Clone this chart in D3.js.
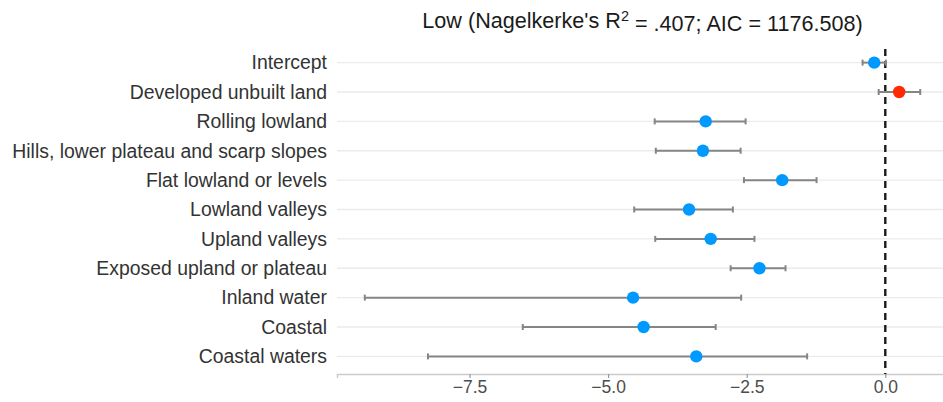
<!DOCTYPE html>
<html lang="en">
<head>
<meta charset="utf-8">
<title>Low model coefficients</title>
<script src="https://d3js.org/d3.v7.min.js"></script>
<style>
  body { margin: 0; background: #fff; }
  #chart text { font-family: "Liberation Sans", Arial, sans-serif; }
</style>
</head>
<body>
<div id="chart"></div>
<script>
// terms, top to bottom
const terms = ["Intercept", "Developed unbuilt land", "Rolling lowland",
  "Hills, lower plateau and scarp slopes", "Flat lowland or levels", "Lowland valleys",
  "Upland valleys", "Exposed upland or plateau", "Inland water", "Coastal", "Coastal waters"];
const estimates = [-0.20, 0.25, -3.24, -3.29, -1.86, -3.54, -3.15, -2.27, -4.55, -4.36, -3.41];
const ciLow =     [-0.41, -0.12, -4.16, -4.14, -2.55, -4.53, -4.15, -2.79, -9.39, -6.54, -8.25];
const ciHigh =    [0.01, 0.63, -2.52, -2.61, -1.24, -2.75, -2.36, -1.80, -2.60, -3.06, -1.41];
const positive =  [false, true, false, false, false, false, false, false, false, false, false];
const xTicks = [-7.5, -5.0, -2.5, 0.0];

const W = 943, H = 402;
const margin = {top: 45, right: -5, bottom: 28, left: 337};
const width = W - margin.left - margin.right;
const height = H - margin.top - margin.bottom;

const svg = d3.select("#chart").append("svg")
  .attr("width", W).attr("height", H);

const g = svg.append("g")
  .attr("transform", "translate(" + margin.left + "," + margin.top + ")");

// ggplot-ish 5% expansion of the data range
const lo = d3.min(ciLow), hi = d3.max(ciHigh);
const pad = (hi - lo) * 0.05;
const x = d3.scaleLinear().domain([lo - pad, hi + pad]).range([0, width]);

const y = d3.scalePoint().domain(terms).range([0, height]).padding(0.6);

const rows = terms.map((t, i) => ({term: t, est: estimates[i], lo: ciLow[i], hi: ciHigh[i], pos: positive[i]}));

// horizontal grid
g.selectAll(".grid").data(terms).enter().append("line")
  .attr("x1", 0).attr("x2", width)
  .attr("y1", d => y(d)).attr("y2", d => y(d))
  .attr("stroke", "#ebebeb").attr("stroke-width", 1.4);

// bottom axis
const xAxis = g.append("g")
  .attr("transform", "translate(0," + height + ")")
  .call(d3.axisBottom(x).tickValues(xTicks).tickFormat(d3.format(".1f")).tickSizeOuter(0).tickSize(4).tickPadding(3));
xAxis.select(".domain").attr("stroke", "#cccccc").attr("stroke-width", 1.5);
xAxis.selectAll(".tick line").attr("stroke", "#999999").attr("stroke-width", 1.2);
xAxis.selectAll(".tick text").attr("fill", "#4d4d4d").style("font-size", "17.5px")
  .text(d => d3.format(".1f")(d).replace("-", "\u2212"));

// y labels
g.selectAll(".ylab").data(terms).enter().append("text")
  .attr("x", -10).attr("y", d => y(d)).attr("dy", "0.35em")
  .attr("text-anchor", "end")
  .attr("fill", "#333333").style("font-size", "19.4px")
  .text(d => d);

// zero reference
g.append("line")
  .attr("x1", x(0)).attr("x2", x(0))
  .attr("y1", 4).attr("y2", height)
  .attr("stroke", "#1a1a1a").attr("stroke-width", 2.4)
  .attr("stroke-dasharray", "7,5");

// error bars
const bars = g.selectAll(".ci").data(rows).enter().append("g");
bars.append("line")
  .attr("x1", d => x(d.lo)).attr("x2", d => x(d.hi))
  .attr("y1", d => y(d.term)).attr("y2", d => y(d.term))
  .attr("stroke", "#858585").attr("stroke-width", 2);
bars.append("line")
  .attr("x1", d => x(d.lo)).attr("x2", d => x(d.lo))
  .attr("y1", d => y(d.term) - 3).attr("y2", d => y(d.term) + 3)
  .attr("stroke", "#858585").attr("stroke-width", 2);
bars.append("line")
  .attr("x1", d => x(d.hi)).attr("x2", d => x(d.hi))
  .attr("y1", d => y(d.term) - 3).attr("y2", d => y(d.term) + 3)
  .attr("stroke", "#858585").attr("stroke-width", 2);

// points
g.selectAll(".pt").data(rows).enter().append("circle")
  .attr("cx", d => x(d.est)).attr("cy", d => y(d.term))
  .attr("r", 6.2)
  .attr("fill", d => d.pos ? "#ff2a00" : "#0099ff");

// title
const title = svg.append("text")
  .attr("x", margin.left + width / 2).attr("y", 28)
  .attr("text-anchor", "middle")
  .attr("fill", "#1a1a1a").style("font-size", "21.6px");
title.append("tspan").text("Low (Nagelkerke's R");
title.append("tspan").attr("dy", "-0.45em").style("font-size", "14.5px").text("2");
title.append("tspan").attr("dy", "0.45em").text(" = .407; AIC = 1176.508)");
</script>
</body>
</html>
